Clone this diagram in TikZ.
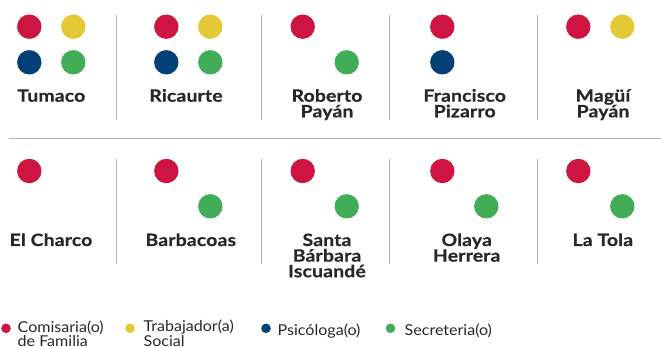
\documentclass[tikz,border=0pt]{standalone}
\usepackage{fontspec}
\setmainfont{Lato}
\newfontfamily\placefont[FakeStretch=1.14,FakeBold=0.6,LetterSpace=1]{Lato Bold}
\newfontfamily\legendfont[FakeStretch=1.07]{Lato}
\definecolor{cred}{HTML}{CE1440}
\definecolor{cyel}{HTML}{E5C835}
\definecolor{cblu}{HTML}{034078}
\definecolor{cgrn}{HTML}{41AE57}
\definecolor{ctxt}{HTML}{2A2728}
\tikzset{
  dotbig/.style={circle,inner sep=0pt,minimum size=24.4pt},
  dotsmall/.style={circle,inner sep=0pt,minimum size=9.6pt},
  place/.style={font=\fontsize{17pt}{15.6pt}\placefont,text=ctxt,align=center,inner sep=0pt,anchor=base},
  legendlabel/.style={font=\fontsize{15pt}{11.6pt}\legendfont,text=ctxt,align=left,inner sep=0pt,anchor=base west},
  sep/.style={draw=black!30,line width=0.9pt}
}
\begin{document}
\begin{tikzpicture}[x=1pt,y=-1pt]
\useasboundingbox (0,0) rectangle (661,347);
% separators
\foreach \n/\x in {a/116.4,b/261,c/389.7,d/537}{
  \coordinate (t\n) at (\x,14.7); \coordinate (u\n) at (\x,120);
  \coordinate (v\n) at (\x,159); \coordinate (w\n) at (\x,264.3);
  \draw[sep] (t\n) -- (u\n);
  \draw[sep] (v\n) -- (w\n);
}
\coordinate (hl) at (9,138); \coordinate (hr) at (661,138);
\draw[sep] (hl) -- (hr);
% dots
\foreach \n/\x/\y/\c in {
 a1/29.3/26.7/cred,a2/73.3/26.7/cyel,a3/29.3/62.3/cblu,a4/73.3/62.3/cgrn,
 b1/166.3/26.7/cred,b2/210.3/26.7/cyel,b3/166.3/62.3/cblu,b4/210.3/62.3/cgrn,
 c1/302.7/26.7/cred,c4/346.7/62.3/cgrn,
 d1/442.3/26.7/cred,d3/442.3/62.3/cblu,
 e1/578.3/26.7/cred,e2/622.3/26.7/cyel,
 f1/29.3/171/cred,
 g1/166.3/171/cred,g4/210.3/206.3/cgrn,
 h1/302.7/171/cred,h4/346.7/206.3/cgrn,
 i1/442.3/171/cred,i4/486.3/206.3/cgrn,
 j1/578.3/171/cred,j4/622.3/206.3/cgrn}{
  \node[dotbig,fill=\c] (\n) at (\x,\y) {};
}
% names
\node[place] (tum) at (51.3,101.7) {Tumaco};
\node[place] (ric) at (186,101.7) {Ricaurte};
\node[place] (rob) at (327,117.3) {Roberto\\Payán};
\node[place] (fra) at (464.7,117.3) {Francisco\\Pizarro};
\node[place] (mag) at (603,117.3) {Magüí\\Payán};
\node[place] (elc) at (51,246) {El Charco};
\node[place] (bar) at (190.8,246) {Barbacoas};
\node[place] (san) at (327,277.2) {Santa\\Bárbara\\Iscuandé};
\node[place] (ola) at (466.7,261.6) {Olaya\\Herrera};
\node[place] (lat) at (602.8,246) {La Tola};
% legend
\node[dotsmall,fill=cred] (l1) at (6,328.3) {};
\node[dotsmall,fill=cyel] (l2) at (130,328.3) {};
\node[dotsmall,fill=cblu] (l3) at (266,328.3) {};
\node[dotsmall,fill=cgrn] (l4) at (390.5,328.3) {};
\node[legendlabel] (t1) at (17.5,346.6) {Comisaria(o)\\de Familia};
\node[legendlabel] (t2) at (143.5,346.6) {Trabajador(a)\\Social};
\node[legendlabel] (t3) at (277.5,335) {Psicóloga(o)};
\node[legendlabel] (t4) at (404.5,335) {Secreteria(o)};
\end{tikzpicture}
\end{document}
